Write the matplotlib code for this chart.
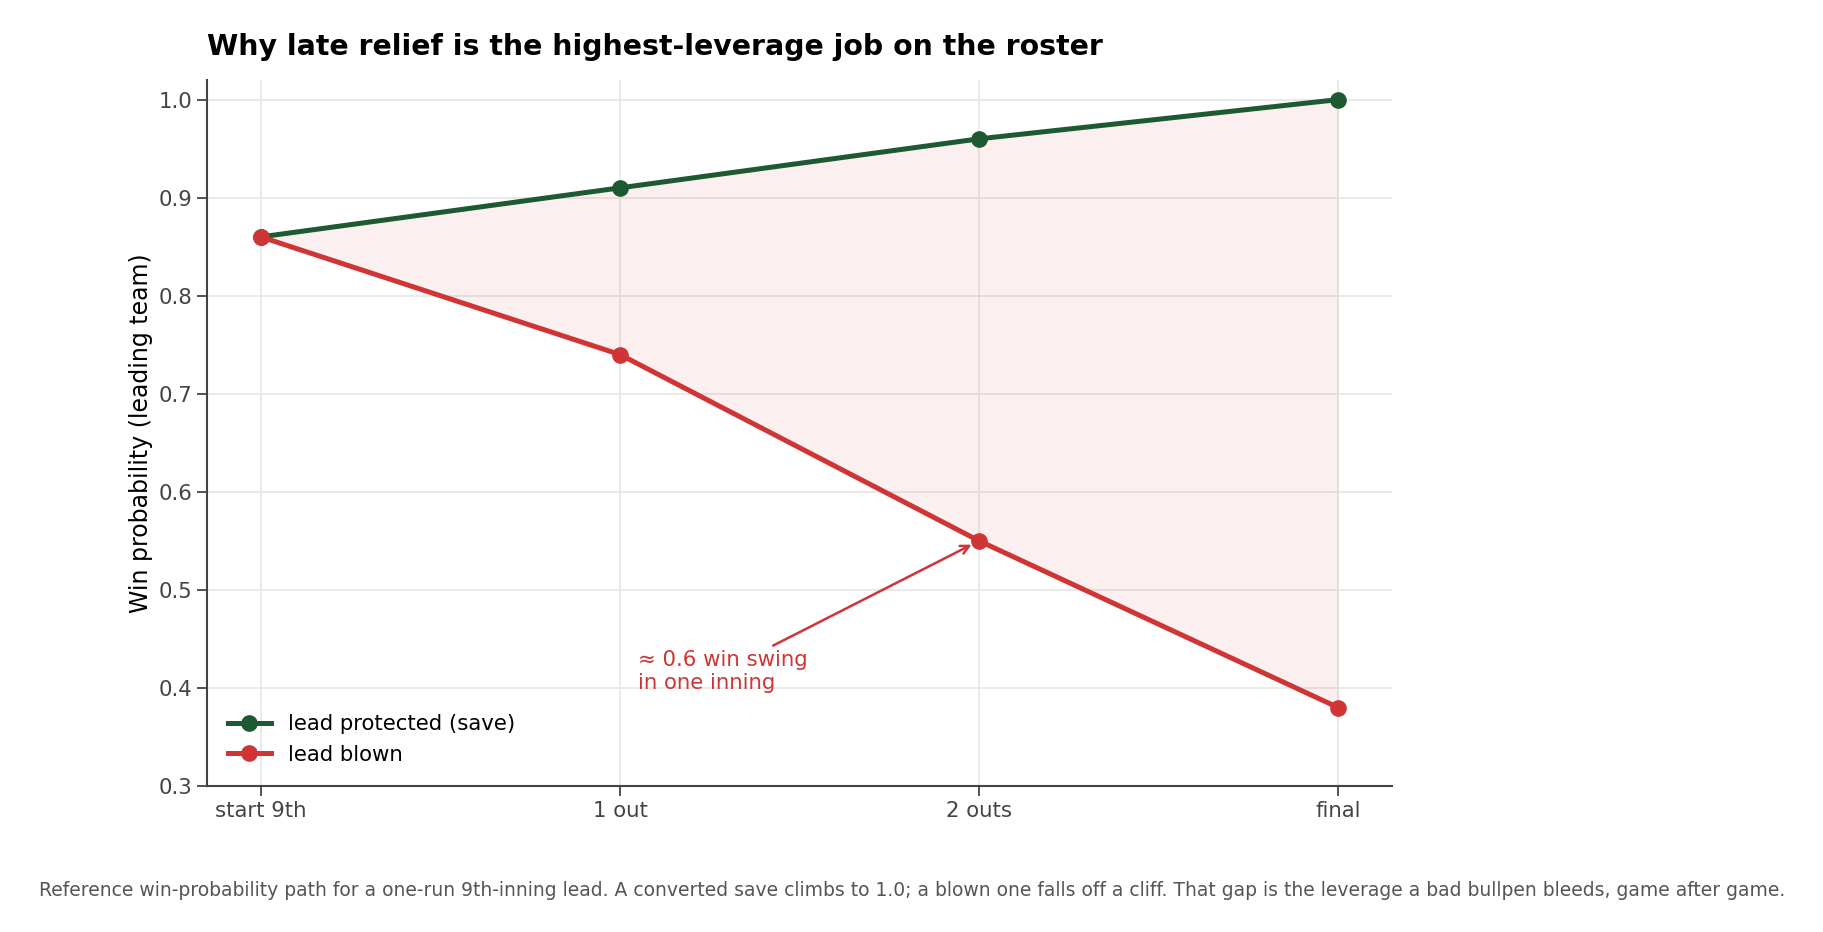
import matplotlib
matplotlib.use("Agg")
import matplotlib.pyplot as plt

stages = ["start 9th", "1 out", "2 outs", "final"]
save_wp = [0.86, 0.91, 0.96, 1.00]
blown_wp = [0.86, 0.74, 0.55, 0.38]

green = "#1d5a32"
red = "#cf3535"

fig = plt.figure(figsize=(18.24, 9.32), dpi=100)
ax = fig.add_axes([207/1824, 1-786/932, (1392-207)/1824, (786-80)/932])

x = list(range(len(stages)))
ax.fill_between(x, blown_wp, save_wp, color=red, alpha=0.08, linewidth=0, zorder=1)
ax.plot(x, save_wp, color=green, lw=3.6, marker="o", ms=11, label="lead protected (save)", zorder=3)
ax.plot(x, blown_wp, color=red, lw=3.6, marker="o", ms=11, label="lead blown", zorder=3)

ax.annotate("≈ 0.6 win swing\nin one inning", xy=(2, 0.55), xytext=(1.05, 0.395),
            color=red, fontsize=15.3, ha="left", va="bottom",
            arrowprops=dict(arrowstyle="->", color=red, lw=1.8, shrinkA=2, shrinkB=6))

ax.set_xlim(-0.15, 3.15)
ax.set_ylim(0.3, 1.02)
ax.set_xticks(x)
ax.set_xticklabels(stages)
ax.set_yticks([0.3, 0.4, 0.5, 0.6, 0.7, 0.8, 0.9, 1.0])
ax.tick_params(labelsize=15.3, colors="#444444", length=7, width=1.3)
ax.grid(True, color="#e8e8e8", lw=1.3, zorder=0)
ax.set_axisbelow(True)
for s in ["top", "right"]:
    ax.spines[s].set_visible(False)
for s in ["left", "bottom"]:
    ax.spines[s].set_color("#444444")
    ax.spines[s].set_linewidth(1.5)

ax.set_ylabel("Win probability (leading team)", fontsize=17)
ax.set_title("Why late relief is the highest-leverage job on the roster", fontsize=20.4,
             fontweight="bold", loc="left", pad=18)
ax.legend(loc="lower left", frameon=False, fontsize=15.3, borderaxespad=0.6)

fig.text(0.5, 1 - 891/932, "Reference win-probability path for a one-run 9th-inning lead. A converted save climbs to 1.0; a blown one falls off a cliff. That gap is the leverage a bad bullpen bleeds, game after game.",
         ha="center", va="center", fontsize=13.5, color="#555555")

fig.savefig("out.png", dpi=100)
